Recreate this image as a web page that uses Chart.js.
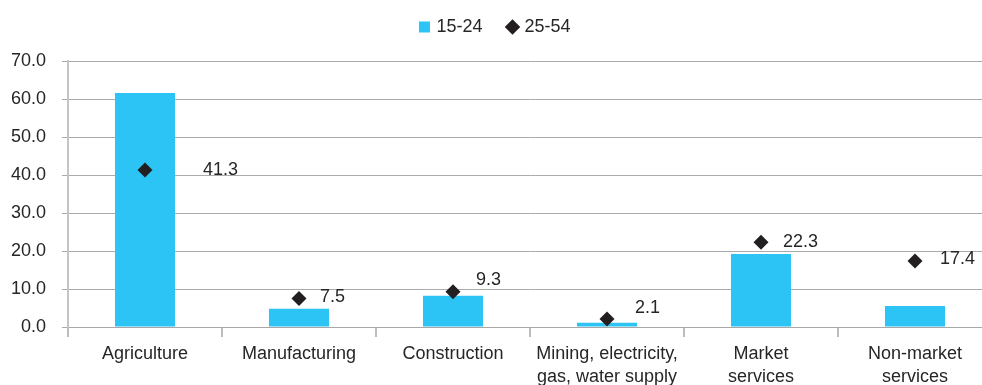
<!DOCTYPE html>
<html lang="en">
<head>
  <meta charset="UTF-8">
  <title>Employment by sector and age group</title>
  <script src="https://cdn.jsdelivr.net/npm/chart.js"></script>
  <style>
    html, body {
      margin: 0;
      padding: 0;
      background: #ffffff;
      overflow: hidden;
    }
    .chart-container {
      width: 1000px;
      height: 401px;
      margin-top: -9px;
    }
  </style>
</head>
<body>

  <div class="chart-container">
    <canvas id="sectorChart" width="1000" height="401"></canvas>
  </div>

  <script>
    const sectors = [
      'Agriculture',
      'Manufacturing',
      'Construction',
      ['Mining, electricity,', 'gas, water supply'],
      ['Market', 'services'],
      ['Non-market', 'services']
    ];
    const youth = [61.6, 4.8, 8.2, 1.1, 19.2, 5.5];     // 15-24
    const primeAge = [41.3, 7.5, 9.3, 2.1, 22.3, 17.4]; // 25-54
    const yTicks = [0, 10, 20, 30, 40, 50, 60, 70];

    const textColor = '#262626';
    const fontFamily = "'Liberation Sans', Arial, sans-serif";

    // value labels next to the diamonds
    const pointLabels = {
      id: 'pointLabels',
      afterDatasetsDraw(chart, args, opts) {
        const ctx = chart.ctx;
        const meta = chart.getDatasetMeta(1);
        ctx.save();
        ctx.font = '18px ' + fontFamily;
        ctx.fillStyle = textColor;
        ctx.textAlign = 'left';
        ctx.textBaseline = 'middle';
        meta.data.forEach((pt, i) => {
          const off = opts.offsets[i];
          ctx.fillText(primeAge[i].toFixed(1), pt.x + off[0], pt.y + off[1]);
        });
        ctx.restore();
      }
    };

    // extra room between the legend and the plot
    const legendGap = {
      id: 'legendGap',
      afterInit(chart, args, opts) {
        const legend = chart.legend;
        const fit = legend.fit;
        legend.fit = function () {
          fit.call(this);
          this.height += opts.extra;
        };
      }
    };

    const ctx = document.getElementById('sectorChart').getContext('2d');
    new Chart(ctx, {
      data: {
        labels: sectors,
        datasets: [{
          type: 'bar',
          label: '15-24',
          data: youth,
          backgroundColor: '#2CC4F4',
          barPercentage: 0.39,
          categoryPercentage: 1,
          order: 2
        }, {
          type: 'line',
          label: '25-54',
          data: primeAge,
          showLine: false,
          pointStyle: 'rectRot',
          pointRadius: 7.5,
          pointBackgroundColor: '#231F20',
          pointBorderColor: '#231F20',
          pointBorderWidth: 0,
          order: 1
        }]
      },
      options: {
        responsive: false,
        animation: false,
        layout: {
          padding: { top: 0, right: 8, left: 0, bottom: 0 }
        },
        plugins: {
          legend: {
            position: 'top',
            labels: {
              usePointStyle: true,
              color: textColor,
              font: { family: fontFamily, size: 18 },
              boxWidth: 6,
              boxHeight: 11,
              padding: 27,
              generateLabels(chart) {
                return chart.data.datasets.map((ds, i) => ({
                  text: ds.label,
                  fillStyle: i === 0 ? '#2CC4F4' : '#231F20',
                  strokeStyle: i === 0 ? '#2CC4F4' : '#231F20',
                  lineWidth: 0,
                  pointStyle: i === 0 ? 'rect' : 'rectRot',
                  fontColor: textColor,
                  datasetIndex: i
                }));
              }
            }
          },
          legendGap: { extra: 15 },
          tooltip: { enabled: false },
          pointLabels: {
            offsets: [[58, 0], [21, -1], [23, -12], [28, -11], [22, 0], [25, -2]]
          }
        },
        scales: {
          x: {
            offset: true,
            grid: {
              offset: true,
              drawOnChartArea: false,
              drawTicks: true,
              tickLength: 10,
              color: '#BDBDBD',
              lineWidth: 2
            },
            border: { color: '#A8A8A8', width: 1 },
            ticks: {
              color: textColor,
              font: { family: fontFamily, size: 18, lineHeight: 1.3 },
              padding: 5,
              maxRotation: 0,
              autoSkip: false
            },
            afterFit(scale) { scale.height = 65; }
          },
          y: {
            min: 0,
            max: 70,
            afterBuildTicks(scale) {
              scale.ticks = yTicks.map(v => ({ value: v }));
            },
            grid: {
              color: '#ABABAB',
              lineWidth: 1,
              tickLength: 6
            },
            border: { color: '#C4C4C4', width: 2 },
            ticks: {
              color: textColor,
              font: { family: fontFamily, size: 18 },
              padding: 16,
              callback: v => v.toFixed(1)
            },
            afterFit(scale) { scale.width = 68; }
          }
        }
      },
      plugins: [pointLabels, legendGap]
    });
  </script>

</body>
</html>
